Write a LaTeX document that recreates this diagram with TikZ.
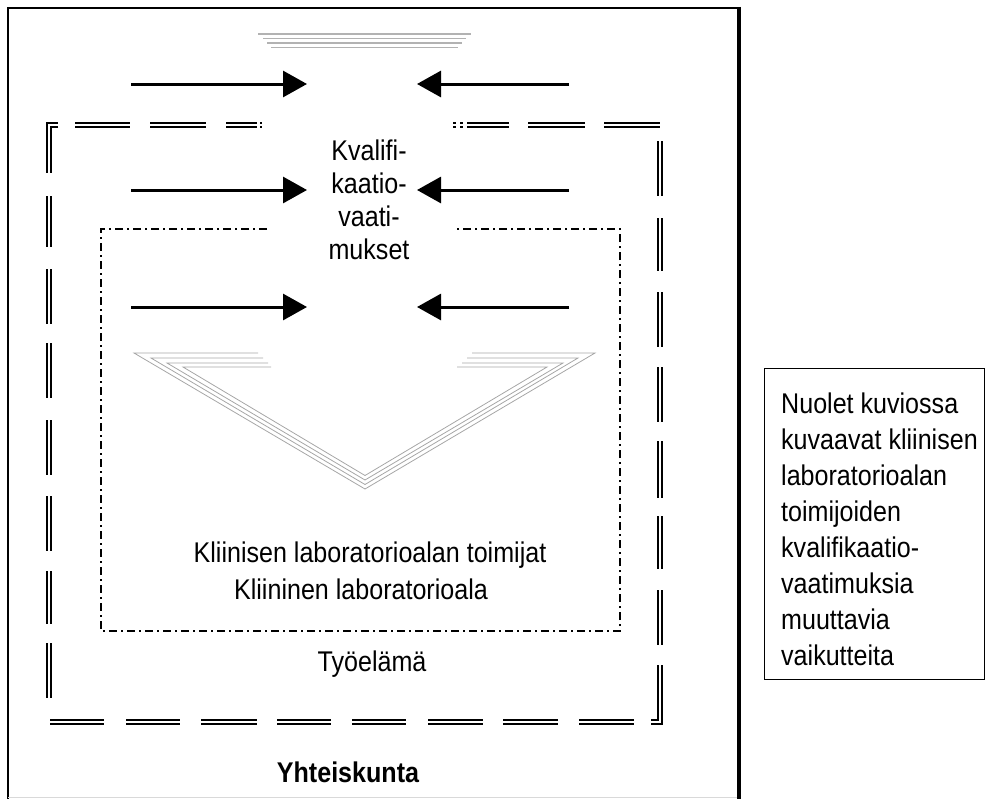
\documentclass[tikz,border=0pt]{standalone}
\usepackage{fontspec}
\setmainfont{Liberation Sans}[FakeStretch=0.88]
\usetikzlibrary{arrows.meta}
\begin{document}
\begin{tikzpicture}[x=1pt,y=-1pt,
  txt/.style={font=\fontsize{28.5}{32}\selectfont, inner sep=0pt, anchor=base},
  ltxt/.style={font=\fontsize{28.5}{32}\selectfont, inner sep=0pt, anchor=base west},
  arr/.style={line width=3pt, -{Triangle[length=24pt,width=26pt]}},
  dbl/.style={line width=2.2pt, double=white, double distance=2pt},
  dashdot/.style={line width=1.6pt, dash pattern=on 8pt off 4pt on 2pt off 4pt},
  chev/.style={gray!70, line width=0.8pt},
  topline/.style={gray!60, line width=1.2pt}]
\useasboundingbox (0,0) rectangle (985,798);
% outer frame (Yhteiskunta)
\draw[line width=2.5pt] (8,800) -- (8,8) -- (740,8);
\draw[line width=4pt] (739,6.75) -- (739,800);
\draw[gray!30, line width=1pt] (8,797.5) -- (737,797.5);
% top stacked lines
\draw[topline] (258,34) -- (471,34);
\draw[topline, line width=0.9pt] (263,38.5) -- (466,38.5);
\draw[topline] (267,43) -- (462,43);
\draw[topline, line width=0.9pt] (271,47.5) -- (458,47.5);
% dashed double box (Tyoelama)
\draw[dbl] (58,125) -- (49,125) -- (49,173);
\foreach \a/\b in {196/247,269/324,343/398,420/475,496/551,571/624,643/698}
  \draw[dbl] (49,\a) -- (49,\b);
\foreach \a/\b in {75/130,150/206,226/257,260/262,453/456,460/463,467/509,528/585,604/660}
  \draw[dbl] (\a,125) -- (\b,125);
\foreach \a/\b in {141/196,218/271,292/347,367/422,441/498,516/569,590/645}
  \draw[dbl] (660,\a) -- (660,\b);
\draw[dbl] (660,665) -- (660,722) -- (651,722);
\foreach \a/\b in {50/104,126/180,201/257,277/331,352/406,428/483,503/558,579/634}
  \draw[dbl] (\a,722) -- (\b,722);
% dash-dot box (Kliininen laboratorioala)
\draw[dashdot] (267,229) -- (101,229) -- (101,631) -- (620,631) -- (620,229) -- (455,229);
% chevron
\draw[chev] (258,353) -- (134,353) -- (365,489) -- (595,353) -- (472,353);
\draw[chev] (263,358) -- (151,358) -- (365,484.5) -- (578,358) -- (467,358);
\draw[chev] (268,363) -- (167,363) -- (365,480) -- (563,363) -- (462,363);
\draw[chev] (271,367) -- (183,367) -- (365,475.5) -- (547,367) -- (457,367);
% arrows
\foreach \i/\y in {1/84,2/190,3/307}{
  \coordinate (ls\i) at (131,\y);
  \coordinate (lt\i) at (307,\y);
  \coordinate (rs\i) at (569,\y);
  \coordinate (rt\i) at (417,\y);
  \draw[arr] (ls\i) -- (lt\i);
  \draw[arr] (rs\i) -- (rt\i);
}
% texts
\node[txt] (kv1) at (369,160) {Kvalifi-};
\node[txt] (kv2) at (369,193) {kaatio-};
\node[txt] (kv3) at (369,226) {vaati-};
\node[txt] (kv4) at (369,259) {mukset};
\node[txt] (toim) at (370,562) {Kliinisen laboratorioalan toimijat};
\node[txt] (ala) at (361,599) {Kliininen laboratorioala};
\node[txt] (tyo) at (372,671) {Työelämä};
\node[txt, font=\fontsize{28.5}{32}\selectfont\bfseries] (yht) at (348,782) {Yhteiskunta};
% legend box
\node[draw, line width=1.2pt, minimum width=220pt, minimum height=311pt, anchor=north west, inner sep=0pt] (legend) at (764,368) {};
\foreach \i/\t [count=\k from 0] in {1/Nuolet kuviossa,2/kuvaavat kliinisen,3/laboratorioalan,4/toimijoiden,5/kvalifikaatio-,6/vaatimuksia,7/muuttavia,8/vaikutteita}
  \node[ltxt] (leg\i) at (781,413+36*\k) {\t};
\end{tikzpicture}
\end{document}
